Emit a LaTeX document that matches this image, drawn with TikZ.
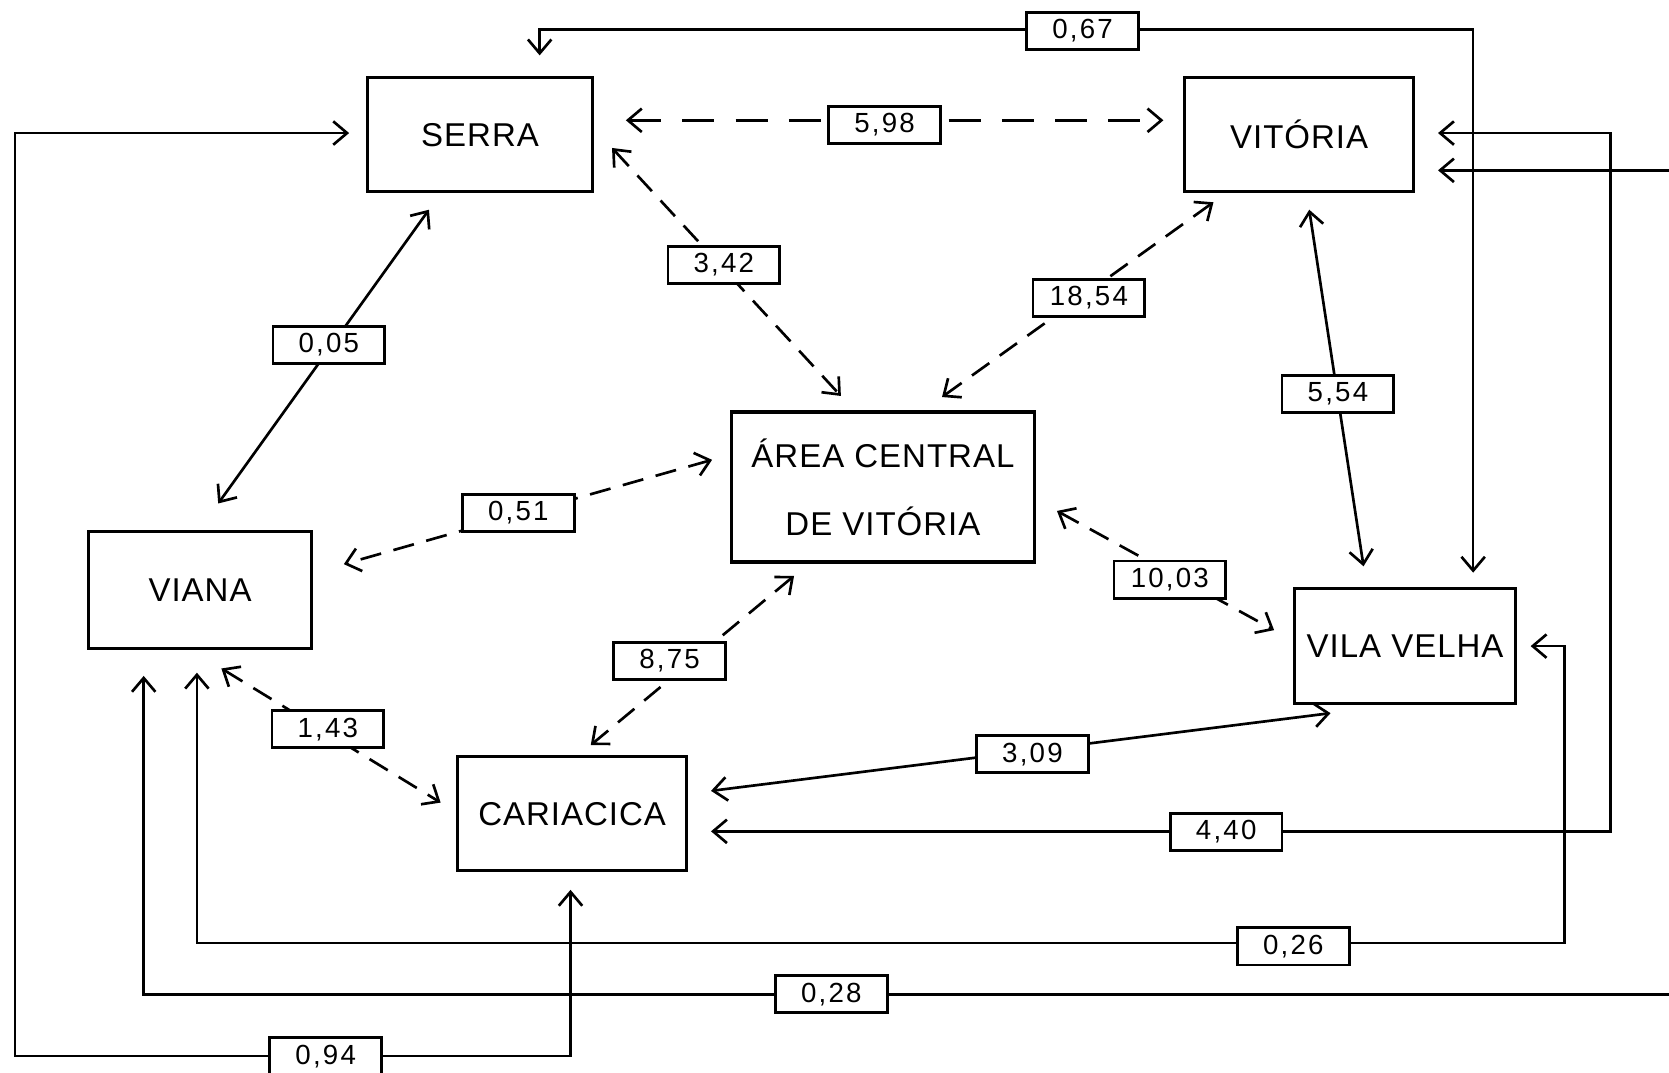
\documentclass[tikz,border=0pt]{standalone}
\usepackage{fontspec}
\setmainfont{Liberation Sans}
\usetikzlibrary{arrows.meta}
\begin{document}
\begin{tikzpicture}[x=0.5pt,y=-0.5pt,
  place/.style={draw,line width=1.5pt,inner sep=0pt,align=center,
    font=\fontsize{15.5}{32}\selectfont\addfontfeatures{LetterSpace=3}},
  val/.style={draw,fill=white,line width=1.3pt,minimum width=52.5pt,minimum height=17.5pt,
    inner sep=0pt,font=\fontsize{13}{13}\selectfont\addfontfeatures{LetterSpace=8}},
  tip/.tip={Straight Barb[length=6.5pt,width=11pt]},
  link/.style={line width=1.25pt,tip-tip},
  onelink/.style={line width=1.25pt,tip-},
  dlink/.style={link,dash pattern=on 10pt off 6pt},
  longdlink/.style={link,dash pattern=on 15pt off 10pt}
]
\useasboundingbox (0,0) rectangle (1568,1008);

% places
\node[place,minimum width=106pt,minimum height=53.5pt] (serra) at (451,126.5) {SERRA};
\node[place,minimum width=107.5pt,minimum height=53.5pt] (vitoria) at (1220.5,126.5) {VITÓRIA};
\node[place,minimum width=142.5pt,minimum height=70.5pt] (area) at (829.5,457.5) {ÁREA CENTRAL\\DE VITÓRIA};
\node[place,minimum width=105pt,minimum height=55pt] (viana) at (188,554) {VIANA};
\node[place,minimum width=104pt,minimum height=54pt] (vila) at (1320,607) {VILA VELHA};
\node[place,minimum width=107.5pt,minimum height=53.5pt] (cariacica) at (537.5,764.5) {CARIACICA};

% connector end points
\coordinate (s67) at (507,52);   \coordinate (v67) at (1384,538);
\coordinate (s598) at (588,113); \coordinate (t598) at (1093,113);
\coordinate (s342) at (575,139); \coordinate (a342) at (790,372);
\coordinate (t1854) at (1140,190); \coordinate (a1854) at (885,373);
\coordinate (s005) at (403,197); \coordinate (n005) at (205,473);
\coordinate (t554) at (1230,197); \coordinate (v554) at (1281,532);
\coordinate (a051) at (669,432); \coordinate (n051) at (323,530);
\coordinate (a1003) at (993,480); \coordinate (v1003) at (1197,592);
\coordinate (a875) at (746,541); \coordinate (c875) at (555,700);
\coordinate (n143) at (208,628); \coordinate (c143) at (414,754);
\coordinate (v309) at (1250,670); \coordinate (c309) at (668,743);
\coordinate (t440) at (1351,125); \coordinate (c440) at (668,781);
\coordinate (toff) at (1351,160); \coordinate (eoff1) at (1575,160);
\coordinate (n028) at (135,635); \coordinate (eoff2) at (1575,934);
\coordinate (v026) at (1438,607); \coordinate (n026) at (185,632);
\coordinate (s094) at (328,125); \coordinate (c094) at (536,836);

% connectors
\draw[link] (s67) -- (507,28) -- (1384,28) -- (v67);
\draw[longdlink] (s598) -- (t598);
\draw[dlink] (s342) -- (a342);
\draw[dlink] (t1854) -- (a1854);
\draw[link] (s005) -- (n005);
\draw[link] (t554) -- (v554);
\draw[dlink] (a051) -- (n051);
\draw[dlink] (a1003) -- (v1003);
\draw[dlink] (a875) -- (c875);
\draw[dlink] (n143) -- (c143);
\draw[link] (v309) -- (c309);
\draw[link] (t440) -- (1513,125) -- (1513,781) -- (c440);
\draw[onelink] (toff) -- (eoff1);
\draw[onelink] (n028) -- (135,934) -- (eoff2);
\draw[link] (v026) -- (1470,607) -- (1470,886) -- (185,886) -- (n026);
\draw[link] (s094) -- (14,125) -- (14,992) -- (536,992) -- (c094);

% values
\node[val] (l067) at (1017,29) {0,67};
\node[val] (l598) at (831,117.5) {5,98};
\node[val] (l342) at (680,249) {3,42};
\node[val] (l1854) at (1023,280) {18,54};
\node[val] (l005) at (309,324) {0,05};
\node[val] (l554) at (1257,370) {5,54};
\node[val] (l051) at (487,482) {0,51};
\node[val] (l1003) at (1099,544.5) {10,03};
\node[val] (l875) at (629,621) {8,75};
\node[val] (l143) at (308,685) {1,43};
\node[val] (l309) at (970,708.5) {3,09};
\node[val] (l440) at (1152,781.5) {4,40};
\node[val] (l026) at (1215,889) {0,26};
\node[val] (l028) at (781,934) {0,28};
\node[val] (l094) at (306,992.5) {0,94};
\end{tikzpicture}
\end{document}
